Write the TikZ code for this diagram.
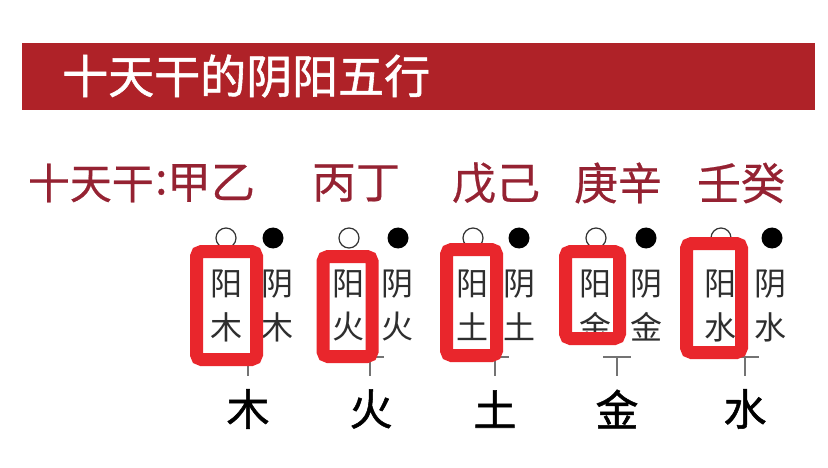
\documentclass[tikz,border=0pt]{standalone}
\usepackage{fontspec}
\newfontfamily\cjk{Noto Sans CJK SC}
\newfontfamily\cjkb[FakeBold=1.2]{Noto Sans CJK SC}
\newfontfamily\cjkm[FakeBold=0.5]{Noto Sans CJK SC}
\definecolor{bannerred}{HTML}{AF2228}
\definecolor{headred}{HTML}{952232}
\definecolor{boxred}{HTML}{E9262C}
\definecolor{smallgray}{HTML}{2E2E2E}
\tikzset{
  bannerbox/.style={fill=bannerred, inner sep=0pt, minimum width=793pt, minimum height=67pt},
  titletext/.style={text=white, inner sep=0pt, anchor=west, font=\cjkb\fontsize{46}{46}\selectfont},
  headtext/.style={text=headred, inner sep=0pt, font=\cjkm\fontsize{44}{44}\selectfont},
  opendot/.style={circle, draw=black!80, line width=1.2pt, fill=white, inner sep=0pt, minimum size=20pt},
  fulldot/.style={circle, fill=black, inner sep=0pt, minimum size=21pt},
  smalltext/.style={text=smallgray, inner sep=0pt, font=\cjk\fontsize{32}{32}\selectfont},
  bigtext/.style={text=black, inner sep=0pt, font=\cjkb\fontsize{43}{43}\selectfont},
  markbox/.style={draw=boxred, line width=13pt, rounded corners=5pt, inner sep=0pt},
  tee/.style={draw=black!55, line width=1.3pt}
}
\begin{document}
\begin{tikzpicture}[x=1pt,y=-1pt]
\useasboundingbox (0,0) rectangle (828,468);
\fill[white] (0,0) rectangle (828,468);
% banner
\node[bannerbox] (banner) at (418.5,76.5) {};
\node[titletext] (title) at (62,76) {十天干的阴阳五行};
% heading row
\node[headtext, anchor=east, font=\cjkm\fontsize{42}{42}\selectfont] (h0) at (154,183) {十天干};
\node[headtext, anchor=west] (hc) at (155,183) {:};
\node[headtext] (h1) at (211,183) {甲乙};
\node[headtext] (h2) at (356,183) {丙丁};
\node[headtext] (h3) at (496,183) {戊己};
\node[headtext] (h4) at (618,183) {庚辛};
\node[headtext] (h5) at (741,183) {壬癸};
% dots
\node[opendot] (o1) at (226,238) {};
\node[fulldot] (f1) at (273,238) {};
\node[opendot] (o2) at (349,238) {};
\node[fulldot] (f2) at (398,238) {};
\node[opendot] (o3) at (473,238) {};
\node[fulldot] (f3) at (519,238) {};
\node[opendot] (o4) at (596,238) {};
\node[fulldot] (f4) at (646,238) {};
\node[opendot] (o5) at (721,238) {};
\node[fulldot] (f5) at (772,238) {};
% small vertical texts
\node[smalltext] (ya1) at (226,284) {阳};
\node[smalltext] (yb1) at (226,327) {木};
\node[smalltext] (na1) at (277,284) {阴};
\node[smalltext] (nb1) at (277,327) {木};
\node[smalltext] (ya2) at (348,284) {阳};
\node[smalltext] (yb2) at (348,327) {火};
\node[smalltext] (na2) at (397,284) {阴};
\node[smalltext] (nb2) at (397,327) {火};
\node[smalltext] (ya3) at (472,284) {阳};
\node[smalltext] (yb3) at (472,327) {土};
\node[smalltext] (na3) at (519,284) {阴};
\node[smalltext] (nb3) at (519,327) {土};
\node[smalltext] (ya4) at (595,284) {阳};
\node[smalltext] (yb4) at (595,327) {金};
\node[smalltext] (na4) at (646,284) {阴};
\node[smalltext] (nb4) at (646,327) {金};
\node[smalltext] (ya5) at (720,284) {阳};
\node[smalltext] (yb5) at (720,327) {水};
\node[smalltext] (na5) at (770,284) {阴};
\node[smalltext] (nb5) at (770,327) {水};
% bottom elements
\node[bigtext] (b1) at (248,409) {木};
\node[bigtext] (b2) at (371,409) {火};
\node[bigtext] (b3) at (495,409) {土};
\node[bigtext] (b4) at (617,409) {金};
\node[bigtext] (b5) at (745,409) {水};
% tee connectors
\foreach \i/\c in {1/248,2/370,3/495,4/617,5/745}{
  \coordinate (tl\i) at (\c-14,357);
  \coordinate (tr\i) at (\c+14,357);
  \coordinate (tm\i) at (\c,357);
  \coordinate (te\i) at (\c,376);
  \draw[tee] (tl\i) -- (tr\i);
  \draw[tee] (tm\i) -- (te\i);
}
% red highlight boxes
\node[markbox, minimum width=60pt, minimum height=108pt] (m1) at (226.5,305.5) {};
\node[markbox, minimum width=49pt, minimum height=100pt] (m2) at (347.5,306.5) {};
\node[markbox, minimum width=50pt, minimum height=106pt] (m3) at (471.5,302.5) {};
\node[markbox, minimum width=54pt, minimum height=87pt] (m4) at (592.5,295) {};
\node[markbox, minimum width=55pt, minimum height=109pt] (m5) at (714,298) {};
\end{tikzpicture}
\end{document}
